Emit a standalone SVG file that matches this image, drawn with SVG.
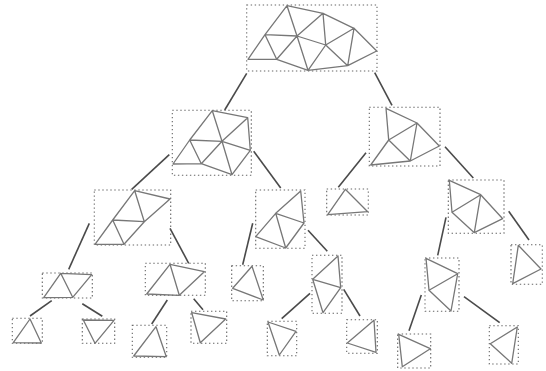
<svg xmlns="http://www.w3.org/2000/svg" width="546" height="371" viewBox="0 0 546 371">
<style>
.box{fill:none;stroke:#666;stroke-width:1.1;stroke-dasharray:1.4 2.6}
.mesh{fill:none;stroke:#777;stroke-width:1.3;stroke-linejoin:round;stroke-linecap:round}
.conn{fill:none;stroke:#4a4a4a;stroke-width:1.6}
</style>
<rect width="546" height="371" fill="#fff"/>
<g id="connectors" class="conn">
<path d="M246.7 73.3L224.7 110"/><path d="M374.7 72.7L392 105.3"/>
<path d="M169.3 154.7L131.7 189.3"/><path d="M253.7 151.3L280.7 188"/>
<path d="M366 152.7L338.3 187.3"/><path d="M445 146.7L473.3 178"/>
<path d="M89.3 223.3L68.7 269.3"/><path d="M170 228.3L188.7 263.3"/>
<path d="M51.7 300.7L30 316"/><path d="M82.3 303.7L102.3 316.3"/>
<path d="M167.3 300L151.7 324"/><path d="M193.7 298.7L203 309.7"/>
<path d="M252.7 223.3L242.7 264.7"/><path d="M308 230.3L327.3 251.3"/>
<path d="M310 293.3L281.7 318.7"/><path d="M343.7 289.3L360 316"/>
<path d="M446 217.3L437.7 255.3"/><path d="M508.7 211.3L529 240"/>
<path d="M421.3 295L409 330.7"/><path d="M464 296.7L499.7 322.7"/>
</g>
<g id="n1"><rect class="box" x="246.7" y="5" width="130.3" height="66"/>
<path class="mesh" d="M287 5.7L323 13.3L354 28.3L376.7 51L347.7 65.7L308 70.3L276.7 59.3L248 59.3L265 34.7L287 5.7L297 36L323 13.3L325.7 45L354 28.3L347.7 65.7L325.7 45L308 70.3L297 36L325.7 45M297 36L265 34.7L276.7 59.3L297 36M354 28.3L376.7 51"/></g>
<g id="n2"><rect class="box" x="172.3" y="110.3" width="79" height="65"/>
<path class="mesh" d="M212.3 110.7L247.7 117.7L250.3 150.3L232 174.7L201.3 163.7L173 164L189.7 140L212.3 110.7L222 141.3L247.7 117.7M222 141.3L250.3 150.3M222 141.3L232 174.7M222 141.3L189.7 140L201.3 163.7L222 141.3"/></g>
<g id="n3"><rect class="box" x="369.3" y="107.3" width="70.7" height="58.7"/>
<path class="mesh" d="M386 108.3L417 123L439.3 146L410.3 161L370.7 165L388.7 140L386 108.3M388.7 140L417 123L410.3 161L388.7 140"/></g>
<g id="n4"><rect class="box" x="94.3" y="190" width="76.4" height="55"/>
<path class="mesh" d="M134.7 190.7L170 199L144.3 221.7L124 244.3L95 244.3L112.7 220L134.7 190.7L144.3 221.7L112.7 220L124 244.3"/></g>
<g id="n5"><rect class="box" x="42.3" y="273" width="50" height="25"/>
<path class="mesh" d="M60.7 273.3L91.7 274.7L72.7 297.3L43.7 297.7L60.7 273.3L72.7 297.3"/></g>
<g id="n6"><rect class="box" x="145.3" y="263.3" width="60" height="32"/>
<path class="mesh" d="M170 264.3L204.3 271.7L179.3 295.3L146.7 294L170 264.3L179.3 295.3"/></g>
<g id="n7"><rect class="box" x="12.3" y="318.3" width="30" height="25"/>
<path class="mesh" d="M30 319L41.3 343L13.3 342.7Z"/></g>
<g id="n8"><rect class="box" x="82.3" y="319" width="32.4" height="24.3"/>
<path class="mesh" d="M83.3 320L114 320.3L95 343.3Z"/></g>
<g id="n9"><rect class="box" x="132.3" y="325.3" width="34.4" height="32"/>
<path class="mesh" d="M156 326.7L166.3 356.7L133.7 356Z"/></g>
<g id="n10"><rect class="box" x="191" y="311.3" width="35.7" height="32"/>
<path class="mesh" d="M191.7 312.7L225.7 319L200.3 342.7Z"/></g>
<g id="n11"><rect class="box" x="255.7" y="190" width="49.3" height="58.3"/>
<path class="mesh" d="M300.7 191L304 223L285.7 248L255.7 236.7L275.7 213.3L300.7 191M275.7 213.3L304 223M275.7 213.3L285.7 248"/></g>
<g id="n12"><rect class="box" x="326.7" y="189" width="41.6" height="26"/>
<path class="mesh" d="M345.3 189.3L367.7 211.7L327.7 214.7Z"/></g>
<g id="n13"><rect class="box" x="231.7" y="265.7" width="31.6" height="35"/>
<path class="mesh" d="M252 266.3L263.3 300L232.7 288.3Z"/></g>
<g id="n14"><rect class="box" x="312" y="255.3" width="30" height="58"/>
<path class="mesh" d="M338 256L340.7 287.7L323 312.7L312.7 279.3L338 256M312.7 279.3L340.7 287.7"/></g>
<g id="n15"><rect class="box" x="267.3" y="321.3" width="29.4" height="34.4"/>
<path class="mesh" d="M268 322L296 331.3L279.3 355Z"/></g>
<g id="n16"><rect class="box" x="346.7" y="319.7" width="30.6" height="33.6"/>
<path class="mesh" d="M374 320.3L376 352.3L347.3 343Z"/></g>
<g id="n17"><rect class="box" x="448.3" y="180" width="55.7" height="53.3"/>
<path class="mesh" d="M449.3 180.3L480.7 194.7L502.7 218.7L474.3 232.7L452 212.3L449.3 180.3M452 212.3L480.7 194.7L474.3 232.7"/></g>
<g id="n18"><rect class="box" x="511" y="244.7" width="31.3" height="39.6"/>
<path class="mesh" d="M518.3 245.3L541 269L512.7 283.7Z"/></g>
<g id="n19"><rect class="box" x="425" y="258" width="34" height="53.3"/>
<path class="mesh" d="M426 258.3L457.7 273.7L451 311L429 290.3L426 258.3M429 290.3L457.7 273.7"/></g>
<g id="n20"><rect class="box" x="397.7" y="334" width="33" height="34"/>
<path class="mesh" d="M398.7 334.3L430.3 348.7L402.3 366.7Z"/></g>
<g id="n21"><rect class="box" x="489.3" y="325.7" width="29" height="38.3"/>
<path class="mesh" d="M517.3 327L511.7 363.3L490.3 343.7Z"/></g>
</svg>
